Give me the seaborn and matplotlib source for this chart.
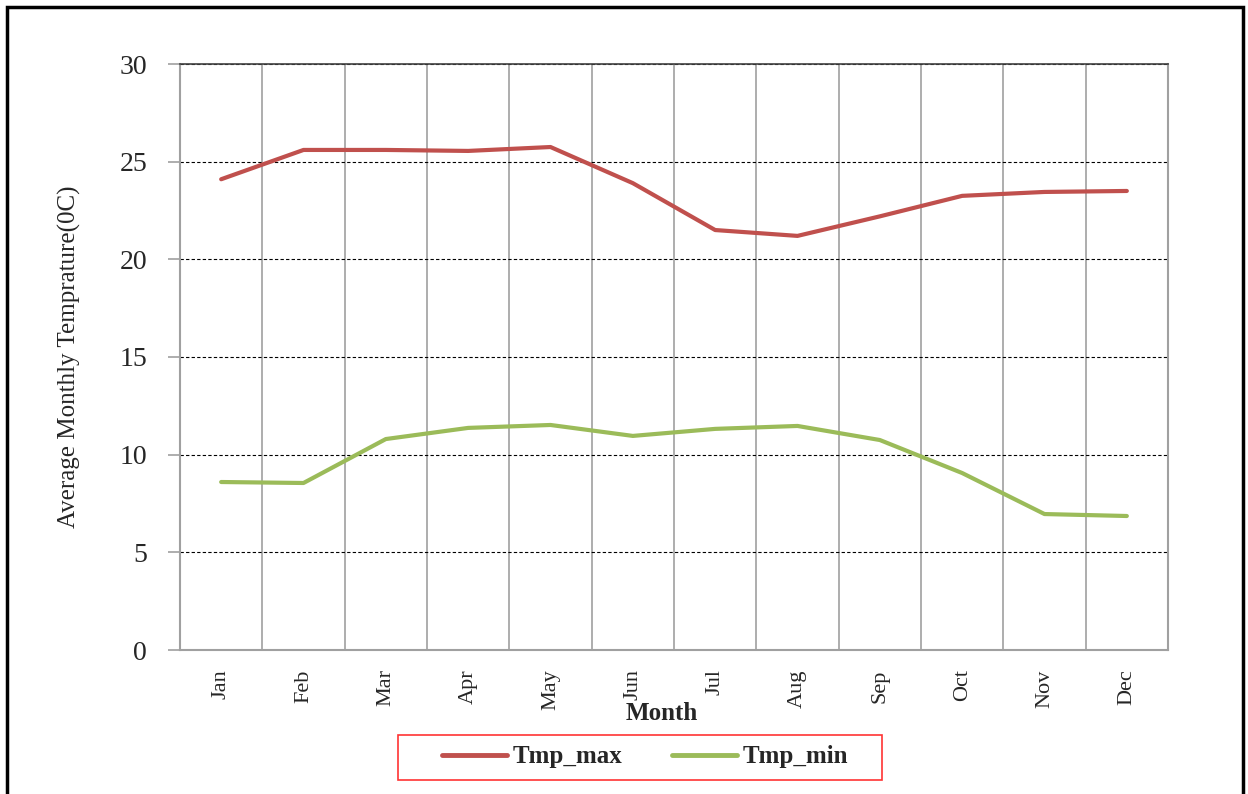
import matplotlib
matplotlib.use('Agg')

import matplotlib.pyplot as plt
import matplotlib.patches as patches
import seaborn as sns
import pandas as pd
import numpy as np

# data
months = ['Jan', 'Feb', 'Mar', 'Apr', 'May', 'Jun', 'Jul', 'Aug', 'Sep', 'Oct', 'Nov', 'Dec']
tmp_max = [24.1, 25.6, 25.6, 25.55, 25.75, 23.9, 21.5, 21.2, 22.2, 23.25, 23.45, 23.5]
tmp_min = [8.6, 8.55, 10.8, 11.37, 11.52, 10.96, 11.32, 11.47, 10.75, 9.06, 6.96, 6.86]
y_ticks = [0, 5, 10, 15, 20, 25, 30]

df = pd.DataFrame({'Month': months * 2,
                   'Temp': tmp_max + tmp_min,
                   'Series': ['Tmp_max'] * 12 + ['Tmp_min'] * 12})
df['pos'] = list(range(12)) * 2

sns.set_style('white')
plt.rcParams['font.family'] = ['Liberation Serif', 'DejaVu Serif']

fig = plt.figure(figsize=(12.48, 7.94), dpi=100)
ax = fig.add_axes([180 / 1248, 144 / 794, 988 / 1248, 586 / 794])

sns.lineplot(data=df, x='pos', y='Temp', hue='Series',
             palette={'Tmp_max': '#C0504D', 'Tmp_min': '#9BBB59'},
             linewidth=3, ax=ax, legend=False, zorder=3)

ax.set_xlim(-0.5, 11.5)
ax.set_ylim(0, 30)
ax.set_xticks(range(12))
ax.set_xticklabels(months, rotation=90, fontsize=16)
ax.set_xticks(np.arange(-0.5, 12, 1), minor=True)
ax.set_yticks(y_ticks)
ax.set_yticklabels([str(t) for t in y_ticks], fontsize=20)

ax.tick_params(axis='x', which='both', bottom=False, length=0, pad=14)
ax.tick_params(axis='y', left=True, length=8.6, color='#a0a0a0', width=1.2, pad=15)

ax.grid(axis='x', which='minor', color='#a0a0a0', linewidth=1.2)
ax.grid(axis='y', which='major', color='black', linestyle=(0, (3, 2)), linewidth=0.8)
ax.grid(axis='x', which='major', visible=False)

for side in ['left', 'bottom', 'right']:
    ax.spines[side].set_color('#a0a0a0')
    ax.spines[side].set_linewidth(1.5)
ax.spines['top'].set_color('#404040')
ax.spines['top'].set_linewidth(1.2)

ax.set_xlabel('Month', fontsize=18, fontweight='bold')
ax.xaxis.set_label_coords((662 - 180) / 988, (650 - 714) / 586)
ax.xaxis.label.set_va('center')
ax.set_ylabel('Average Monthly Temprature(0C)', fontsize=18)
ax.yaxis.set_label_coords((69 - 180) / 988, 0.5)
ax.yaxis.label.set_va('center')

# legend below the plot
handles = [plt.Line2D([], [], color='#C0504D', linewidth=3.5),
           plt.Line2D([], [], color='#9BBB59', linewidth=3.5)]
leg = fig.legend(handles, ['Tmp_max', 'Tmp_min'], loc='center',
                 bbox_to_anchor=(645 / 1248, 1 - 757 / 794), ncol=2,
                 frameon=False, handlelength=2.6,
                 handletextpad=0.2, columnspacing=2.0,
                 prop={'size': 18, 'weight': 'bold'})

# red frame around the legend
fig.patches.append(patches.Rectangle((398 / 1248, 1 - 780 / 794), 484 / 1248, 45 / 794,
                                     transform=fig.transFigure, fill=False,
                                     edgecolor='#ff3333', linewidth=1.2))

# outer frame around the picture
fig.patches.append(patches.Rectangle((7 / 1248, -0.02), 1236 / 1248, 1.02 - 7 / 794,
                                     transform=fig.transFigure, fill=False,
                                     edgecolor='black', linewidth=2.5))

fig.savefig('out.png', dpi=100)
